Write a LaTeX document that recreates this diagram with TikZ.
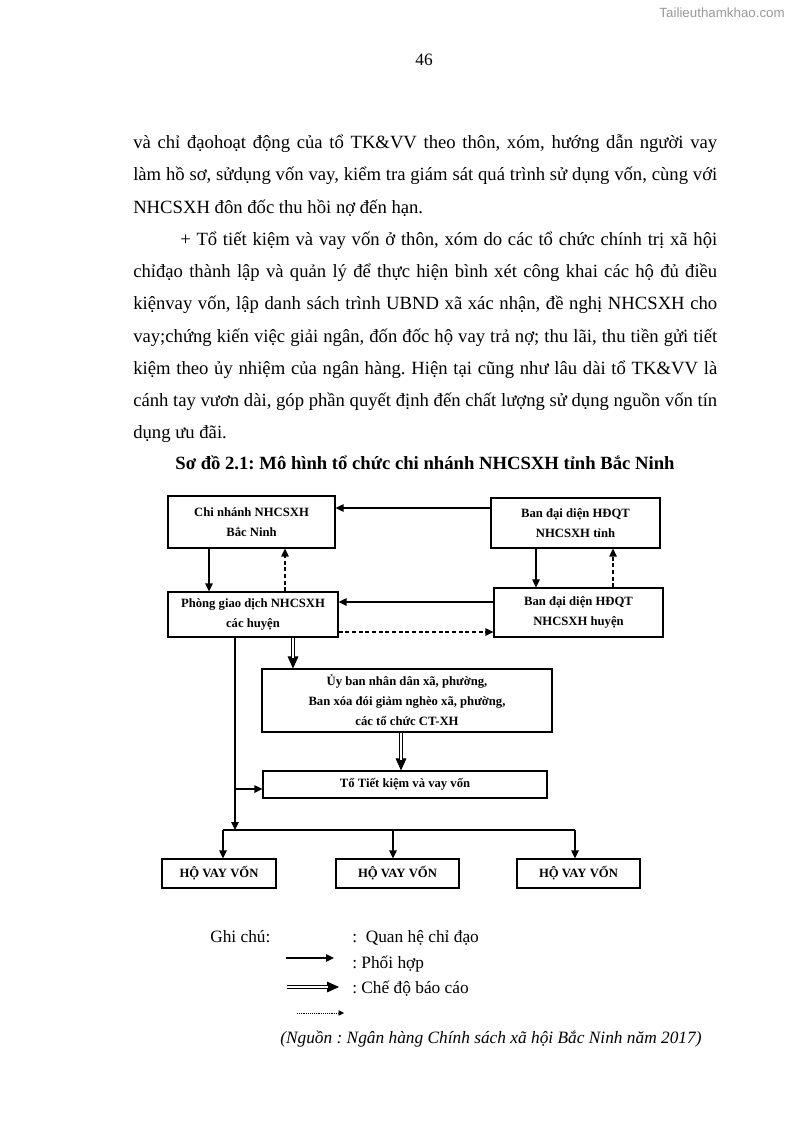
\documentclass[tikz,border=0pt]{standalone}
\usepackage{fontspec}
\setmainfont{Liberation Serif}
\newfontfamily\wmfont{Liberation Sans}
\usetikzlibrary{arrows.meta}
\frenchspacing
\begin{document}
\begin{tikzpicture}[x=0.75pt,y=-0.75pt,
  box/.style={draw, line width=0.8pt, inner sep=0pt, align=center,
    font=\fontsize{9.5}{15}\selectfont\bfseries},
  txt/.style={anchor=base west, inner sep=0pt, font=\fontsize{14}{16}\selectfont\frenchspacing},
  lgd/.style={anchor=base west, inner sep=0pt, font=\fontsize{13}{16}\selectfont},
  arr/.style={line width=1.1pt, -{Triangle[length=6pt,width=5.5pt]}},
  dasharr/.style={arr, dash pattern=on 3pt off 2pt},
  dbl/.style={double, line width=0.7pt, double distance=1.8pt, shorten >=8pt},
  dbltip/.style={line width=0.6pt, -{Triangle[length=9pt,width=8pt]}},
  dotarr/.style={line width=0.6pt, dash pattern=on 0.7pt off 0.7pt, -{Triangle[length=4pt,width=4pt]}}
]
\fill[white] (0,0) rectangle (794,1123);
\useasboundingbox (0,0) rectangle (794,1123);

% watermark and page number
\node[anchor=base east, inner sep=0pt, font=\wmfont\fontsize{10}{12}\selectfont, text=black!40] (wm) at (785,18) {Tailieuthamkhao.com};
\node[anchor=base, inner sep=0pt, font=\fontsize{13}{16}\selectfont] (pg) at (424,66) {46};

% body text
\node[txt] (t1) at (133,148.5) {\makebox[438pt][s]{và chỉ đạohoạt động của tổ TK\&VV theo thôn, xóm, hướng dẫn người vay}};
\node[txt] (t2) at (133,180.8) {\makebox[438pt][s]{làm hồ sơ, sửdụng vốn vay, kiểm tra giám sát quá trình sử dụng vốn, cùng với}};
\node[txt] (t3) at (133,213.1) {NHCSXH đôn đốc thu hồi nợ đến hạn.};
\node[txt] (t4) at (180,245.3) {\makebox[402.75pt][s]{+ Tổ tiết kiệm và vay vốn ở thôn, xóm do các tổ chức chính trị xã hội}};
\node[txt] (t5) at (133,277.6) {\makebox[438pt][s]{chỉđạo thành lập và quản lý để thực hiện bình xét công khai các hộ đủ điều}};
\node[txt] (t6) at (133,309.9) {\makebox[438pt][s]{kiệnvay vốn, lập danh sách trình UBND xã xác nhận, đề nghị NHCSXH cho}};
\node[txt] (t7) at (133,342.2) {\makebox[438pt][s]{vay;chứng kiến việc giải ngân, đốn đốc hộ vay trả nợ; thu lãi, thu tiền gửi tiết}};
\node[txt] (t8) at (133,374.5) {\makebox[438pt][s]{kiệm theo ủy nhiệm của ngân hàng. Hiện tại cũng như lâu dài tổ TK\&VV là}};
\node[txt] (t9) at (133,406.7) {\makebox[438pt][s]{cánh tay vươn dài, góp phần quyết định đến chất lượng sử dụng nguồn vốn tín}};
\node[txt] (t10) at (133,438) {dụng ưu đãi.};

% caption
\node[anchor=base, inner sep=0pt, font=\fontsize{14}{16}\selectfont\bfseries] (cap) at (425,469) {Sơ đồ 2.1: Mô hình tổ chức chi nhánh NHCSXH tỉnh Bắc Ninh};

% boxes
\node[box, minimum width={167*0.75pt}, minimum height={52*0.75pt}] (b1) at (251.5,522) {Chi nhánh NHCSXH\\Bắc Ninh};
\node[box, minimum width={169*0.75pt}, minimum height={50*0.75pt}] (b2) at (575.5,523) {Ban đại diện HĐQT\\NHCSXH tỉnh};
\node[box, minimum width={170*0.75pt}, minimum height={45*0.75pt}] (b3) at (253,614.5) {Phòng giao dịch NHCSXH\\các huyện};
\node[box, minimum width={169*0.75pt}, minimum height={49*0.75pt}] (b4) at (578.5,612.5) {Ban đại diện HĐQT\\NHCSXH huyện};
\node[box, minimum width={290*0.75pt}, minimum height={63*0.75pt}] (b5) at (407,700.5) {Ủy ban nhân dân xã, phường,\\Ban xóa đói giảm nghèo xã, phường,\\các tổ chức CT-XH};
\node[box, minimum width={284*0.75pt}, minimum height={27*0.75pt}] (b6) at (405,784.5) {Tổ Tiết kiệm và vay vốn};
\node[box, minimum width={114*0.75pt}, minimum height={29*0.75pt}] (h1) at (219,873.5) {HỘ VAY VỐN};
\node[box, minimum width={123*0.75pt}, minimum height={29*0.75pt}] (h2) at (397.5,873.5) {HỘ VAY VỐN};
\node[box, minimum width={123*0.75pt}, minimum height={29*0.75pt}] (h3) at (578.5,873.5) {HỘ VAY VỐN};

% connectors top
\draw[arr] (b2.west |- 0,508) -- (b1.east |- 0,508);
\draw[arr] (b1.south -| 209,0) -- (b3.north -| 209,0);
\draw[dasharr] (b3.north -| 285,0) -- (b1.south -| 285,0);
\draw[arr] (b2.south -| 536,0) -- (b4.north -| 536,0);
\draw[dasharr] (b4.north -| 613,0) -- (b2.south -| 613,0);
\draw[arr] (b4.west |- 0,602) -- (b3.east |- 0,602);
\draw[dasharr] (b3.east |- 0,632) -- (b4.west |- 0,632);

% double arrows
\draw[dbltip] (b3.south -| 293,0) -- (b5.north -| 293,0);
\draw[dbl] (b3.south -| 293,0) -- (b5.north -| 293,0);
\draw[dbltip] (b5.south -| 401,0) -- (b6.north -| 401,0);
\draw[dbl] (b5.south -| 401,0) -- (b6.north -| 401,0);

% trunk to households
\coordinate (jn) at (235,830);
\coordinate (hl) at (223,830);
\coordinate (hm) at (393,830);
\coordinate (hr) at (575,830);
\coordinate (br) at (235,789);
\draw[arr] (b3.south -| jn) -- (jn);
\draw[arr] (br) -- (b6.west |- br);
\draw[line width=1.1pt] (hl) -- (hr);
\draw[arr] (hl) -- (h1.north -| hl);
\draw[arr] (hm) -- (h2.north -| hm);
\draw[arr] (hr) -- (h3.north -| hr);

% legend
\node[lgd] (gc) at (210,942) {Ghi chú:};
\node[lgd] (lg1) at (352,942) {:\ \ Quan hệ chỉ đạo};
\node[lgd] (lg2) at (352,968) {: Phối hợp};
\node[lgd] (lg3) at (352,993) {: Chế độ báo cáo};
\coordinate (la1) at (286,958); \coordinate (la2) at (334,958);
\draw[arr] (la1) -- (la2);
\coordinate (lb1) at (287,987); \coordinate (lb2) at (339,987);
\draw[dbltip] (lb1) -- (lb2);
\draw[dbl] (lb1) -- (lb2);
\coordinate (lc1) at (297,1013); \coordinate (lc2) at (344,1013);
\draw[dotarr] (lc1) -- (lc2);

% source
\node[lgd, font=\fontsize{13}{16}\selectfont\itshape] (src) at (280,1043) {(Nguồn : Ngân hàng Chính sách xã hội Bắc Ninh năm 2017)};
\end{tikzpicture}
\end{document}
